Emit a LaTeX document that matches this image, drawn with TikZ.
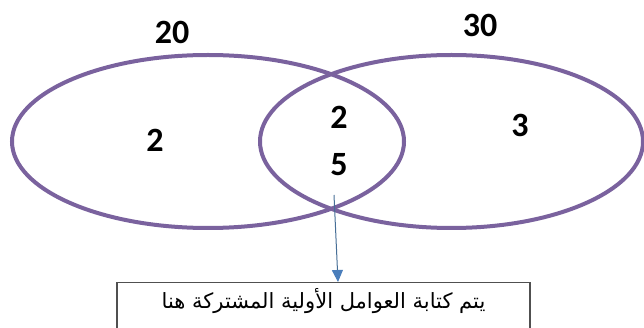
\documentclass[tikz,border=0pt]{standalone}
\usepackage{fontspec}
\setmainfont{Carlito}
\newfontfamily\arabicfont[Script=Arabic]{DejaVu Sans}
\TeXXeTstate=1
\usetikzlibrary{arrows.meta}
\definecolor{vennpurple}{RGB}{122,98,158}
\definecolor{arrowline}{RGB}{70,110,150}
\definecolor{arrowhead}{RGB}{74,126,187}
\definecolor{boxline}{RGB}{80,80,80}
\tikzset{
  venn/.style={draw=vennpurple, line width=4pt},
  num/.style={font=\bfseries\fontsize{34}{38}\selectfont, inner sep=0pt},
  pointer/.style={draw=arrowline, line width=1pt, -{Triangle[length=12pt,width=11pt,fill=arrowhead,color=arrowhead]}},
  notebox/.style={draw=boxline, line width=1.3pt, minimum width=413pt, inner ysep=5pt, text height=21pt, text depth=25pt, font=\arabicfont\fontsize{21}{25}\selectfont}
}
\begin{document}
\begin{tikzpicture}[x=1pt,y=-1pt]
\useasboundingbox (0,0) rectangle (644,328);
\coordinate (cl) at (208,141.5);
\coordinate (cr) at (451.5,141.5);
\draw[venn] (cl) ellipse [x radius=196, y radius=86.5];
\draw[venn] (cr) ellipse [x radius=191.5, y radius=86.5];
\node[num] (n20) at (172,32) {20};
\node[num] (n30) at (480,25) {30};
\node[num] (l2) at (155,140) {2};
\node[num] (m2) at (339,117) {2};
\node[num] (m5) at (339,165) {5};
\node[num] (r3) at (520,125) {3};
\node[notebox, anchor=north] (box) at (323.5,282) {\beginR يتم كتابة العوامل الأولية المشتركة هنا\endR};
\coordinate (start) at (334,195);
\coordinate (tip) at (338,282);
\draw[pointer] (start) -- (tip);
\end{tikzpicture}
\end{document}
